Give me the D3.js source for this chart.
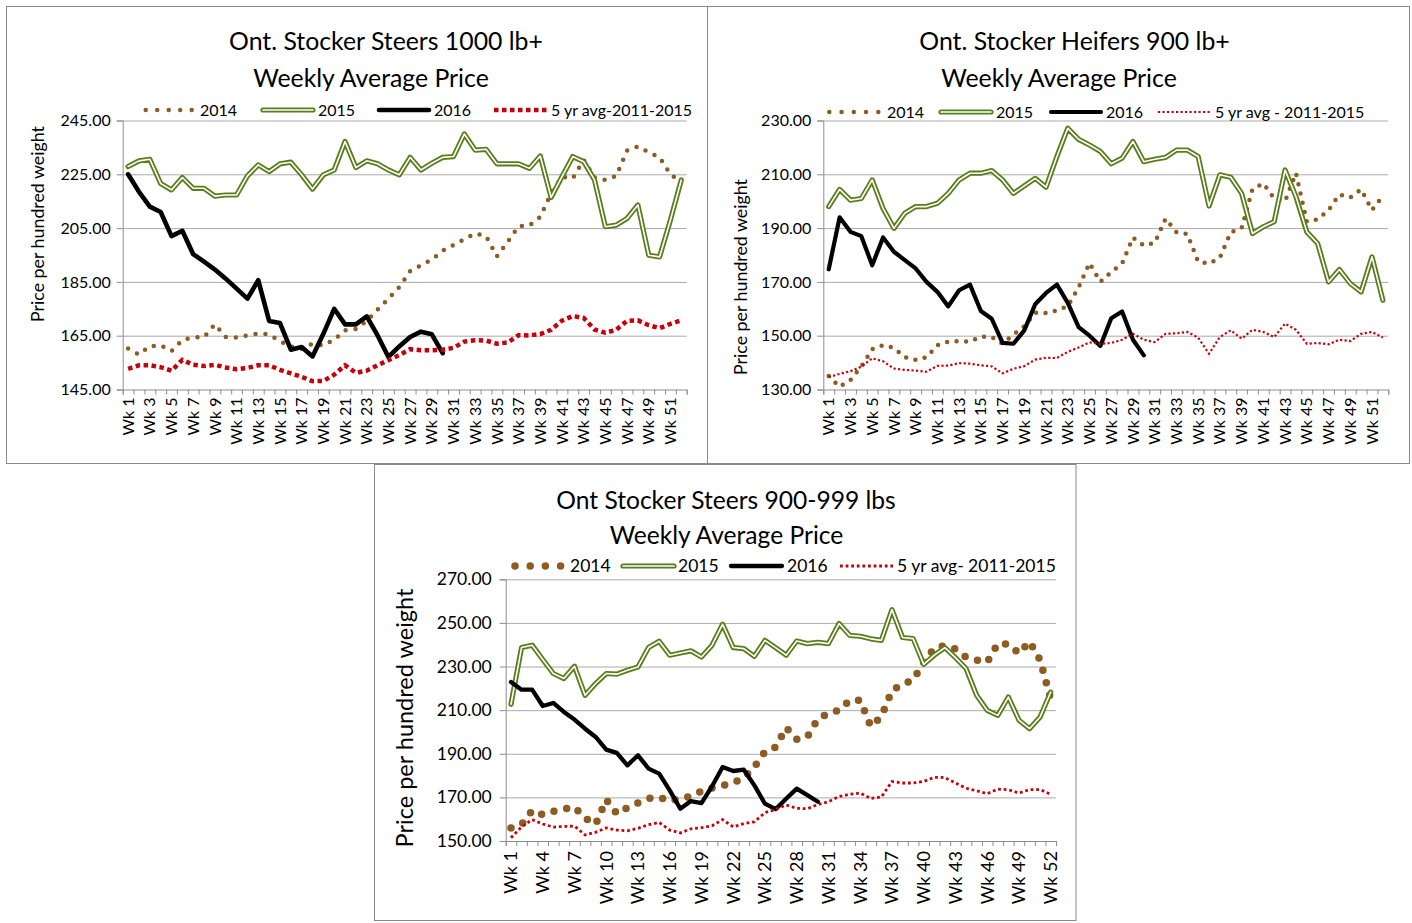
<!DOCTYPE html>
<html>
<head>
<meta charset="utf-8">
<script src="https://cdn.jsdelivr.net/npm/d3@7"></script>
<style>
  body { margin: 0; background: #fff; }
  svg text { font-family: Lato, 'Open Sans', sans-serif; fill: #000; }
</style>
</head>
<body>
<svg id="chart" width="1412" height="923"></svg>
<script>
// ---- data ($/cwt) ----
const weeks = d3.range(1, 53).map(w => `Wk ${w}`);

// Ont. Stocker Steers 1000 lb+
const steers1000_2014 = [160.2, 158.0, 161.1, 161.4, 159.3, 163.4, 164.3, 164.5, 169.2, 164.5, 164.3, 165.1, 165.8,
  165.5, 163.0, 161.0, 160.0, 162.0, 161.4, 163.5, 167.0, 167.5, 170.5, 174.7, 178.8, 183.1, 189.0, 191.2, 193.3,
  196.6, 198.7, 200.9, 203.0, 202.0, 194.5, 199.9, 205.7, 206.0, 209.2, 218.0, 224.0, 223.5, 230.3, 223.8, 222.9,
  224.4, 233.8, 235.3, 233.2, 231.3, 225.0, 222.0];
const steers1000_2015 = [227.9, 230.0, 230.6, 221.6, 219.2, 223.8, 219.8, 219.8, 216.9, 217.3, 217.3, 224.4, 228.5,
  226.0, 228.9, 229.5, 224.8, 219.5, 224.8, 226.6, 237.2, 227.5, 230.0, 228.9, 226.6, 224.8, 231.3, 226.6, 229.1,
  231.3, 231.6, 240.0, 234.0, 234.3, 228.9, 228.9, 228.9, 227.2, 231.8, 216.4, 224.1, 231.6, 229.7, 222.9, 205.5,
  206.1, 208.6, 213.6, 194.9, 194.3, 208.0, 222.9];
const steers1000_2016 = [225.0, 218.5, 213.0, 211.0, 202.0, 204.0, 195.3, 192.5, 189.6, 186.2, 182.5, 178.8, 185.6,
  170.5, 169.7, 159.8, 160.8, 157.3, 165.7, 175.0, 169.2, 169.2, 172.2, 165.1, 157.1, 161.0, 164.5, 166.5, 165.5,
  158.5];
const steers1000_avg = [152.7, 154.0, 154.0, 153.3, 152.0, 156.0, 154.2, 153.7, 154.2, 153.2, 152.5, 153.0, 154.0,
  154.0, 152.3, 151.0, 149.7, 148.1, 148.2, 150.5, 154.0, 151.2, 152.0, 154.0, 155.9, 157.8, 160.0, 159.6, 159.6,
  159.8, 160.5, 162.8, 163.3, 163.2, 162.0, 162.5, 165.2, 165.1, 165.6, 167.2, 170.6, 172.3, 171.6, 167.3, 166.1,
  167.2, 170.5, 170.7, 168.9, 167.8, 169.4, 170.7];

// Ont. Stocker Heifers 900 lb+
const heifers900_2014 = [135.0, 131.0, 133.5, 138.5, 145.0, 146.5, 145.5, 142.0, 141.0, 142.0, 146.5, 147.8, 148.0,
  147.8, 149.6, 149.5, 147.0, 150.4, 153.5, 158.5, 158.4, 159.4, 161.0, 168.0, 177.0, 170.0, 173.7, 176.8, 186.5,
  183.5, 184.5, 193.5, 188.5, 187.8, 177.5, 176.8, 179.0, 188.5, 190.0, 204.5, 206.6, 201.0, 200.0, 210.5, 192.4,
  193.2, 196.7, 202.5, 201.4, 204.4, 196.7, 202.0];
const heifers900_2015 = [198.0, 204.4, 200.4, 201.0, 207.9, 197.3, 189.9, 195.5, 198.0, 198.0, 199.2, 202.9, 207.9,
  210.4, 210.4, 211.4, 207.9, 202.9, 205.7, 208.5, 205.2, 216.6, 227.1, 223.0, 220.9, 218.5, 213.9, 216.0, 222.2,
  214.7, 215.6, 216.3, 219.0, 219.0, 216.6, 198.2, 209.8, 208.9, 202.9, 188.0, 190.5, 192.4, 211.6, 201.7, 188.6,
  184.3, 170.0, 174.6, 169.4, 166.3, 179.3, 163.2];
const heifers900_2016 = [174.7, 194.0, 188.6, 187.0, 176.2, 186.5, 181.2, 178.1, 175.0, 170.0, 166.3, 160.9, 166.9,
  169.0, 159.2, 156.3, 147.3, 147.0, 152.0, 161.7, 165.9, 169.0, 162.2, 153.2, 150.0, 146.2, 156.5, 159.0, 148.5,
  142.7];
const heifers900_avg = [134.6, 135.8, 136.8, 138.5, 141.6, 140.5, 137.8, 137.3, 137.0, 136.6, 138.8, 138.9, 139.8,
  139.6, 139.0, 138.6, 136.0, 137.7, 138.7, 141.1, 141.8, 141.7, 144.0, 145.6, 147.5, 147.0, 147.3, 148.5, 150.7,
  148.5, 147.6, 150.7, 150.9, 151.4, 149.3, 143.3, 149.5, 152.0, 148.9, 152.2, 151.4, 149.5, 154.5, 152.2, 147.0,
  147.3, 146.8, 148.5, 148.0, 150.7, 151.4, 149.3];

// Ont Stocker Steers 900-999 lbs
const steers900_2014 = [156.0, 157.5, 164.0, 162.0, 163.6, 164.6, 165.6, 160.5, 157.6, 169.0, 162.5, 165.3, 167.5,
  169.5, 170.0, 168.3, 169.5, 170.5, 172.8, 174.3, 175.5, 176.6, 179.0, 184.0, 191.0, 193.0, 202.0, 196.6, 197.7,
  206.0, 208.5, 210.0, 214.5, 214.5, 202.5, 207.0, 219.0, 222.0, 223.7, 232.0, 238.5, 239.5, 238.0, 234.2, 233.0,
  232.0, 240.5, 240.3, 236.0, 241.5, 233.0, 215.0];
const steers900_2015 = [212.7, 238.7, 239.8, 233.2, 226.8, 224.5, 230.1, 216.8, 222.2, 226.8, 226.5, 228.3, 229.8,
  238.7, 241.6, 235.2, 236.2, 237.2, 234.4, 239.8, 249.4, 238.7, 238.2, 234.7, 242.0, 238.7, 235.2, 241.7, 240.5,
  241.1, 240.5, 249.7, 244.3, 243.9, 242.7, 242.0, 256.1, 243.3, 242.8, 231.0, 235.2, 238.7, 234.1, 229.1, 216.8,
  209.9, 207.6, 216.0, 205.4, 201.5, 206.9, 218.3];
const steers900_2016 = [222.9, 219.4, 219.4, 211.9, 213.3, 209.2, 205.7, 201.5, 197.7, 191.9, 190.4, 184.7, 189.3,
  183.2, 180.9, 173.2, 164.8, 168.3, 167.4, 175.1, 183.9, 182.1, 182.7, 175.5, 167.1, 164.6, 169.4, 174.0, 171.0,
  168.0];
const steers900_avg = [151.5, 156.5, 159.8, 157.8, 156.4, 156.7, 156.8, 152.8, 154.0, 156.0, 155.0, 154.7, 155.8,
  157.5, 158.5, 155.0, 153.7, 155.6, 156.1, 157.0, 159.8, 156.5, 158.0, 158.8, 163.0, 164.5, 166.5, 165.0, 164.8,
  166.7, 168.0, 170.4, 171.4, 172.0, 169.5, 170.2, 177.3, 176.6, 176.6, 177.3, 179.2, 179.1, 176.6, 174.2, 173.0,
  171.7, 173.8, 173.5, 172.0, 173.6, 173.6, 171.4];

const steers1000Ticks = [145, 165, 185, 205, 225, 245];
const heifers900Ticks = [130, 150, 170, 190, 210, 230];
const steers900Ticks = [150, 170, 190, 210, 230, 250, 270];

const steers1000Title = ['Ont. Stocker Steers 1000 lb+', 'Weekly Average Price'];
const heifers900Title = ['Ont. Stocker Heifers 900 lb+', 'Weekly Average Price'];
const steers900Title = ['Ont Stocker Steers 900-999 lbs', 'Weekly Average Price'];

const steers1000Legend = ['2014', '2015', '2016', '5 yr avg-2011-2015'];
const heifers900Legend = ['2014', '2015', '2016', '5 yr avg - 2011-2015'];
const steers900Legend = ['2014', '2015', '2016', '5 yr avg- 2011-2015'];

const yTitle = 'Price per hundred weight';

// ---- colours ----
const BROWN = '#8c5c22';
const GREEN = '#5a7d1c';
const RED = '#c8000a';
const GRID = '#ababab';
const AXIS = '#8e8e8e';

const svg = d3.select('#chart');
svg.append('rect').attr('width', 1412).attr('height', 923).attr('fill', '#fff');

// draw one series path (or legend sample) in its style
function styledPath(g, d, kind, st) {
  if (kind === 'double') {
    g.append('path').attr('d', d).attr('fill', 'none').attr('stroke', GREEN)
      .attr('stroke-width', st.outer).attr('stroke-linejoin', 'round').attr('stroke-linecap', 'round');
    g.append('path').attr('d', d).attr('fill', 'none').attr('stroke', '#fff')
      .attr('stroke-width', st.inner).attr('stroke-linejoin', 'round').attr('stroke-linecap', 'round');
  } else if (kind === 'dot') {
    g.append('path').attr('d', d).attr('fill', 'none').attr('stroke', BROWN)
      .attr('stroke-width', st.w).attr('stroke-linecap', 'round')
      .attr('stroke-dasharray', `0,${st.gap}`);
  } else if (kind === 'solid') {
    g.append('path').attr('d', d).attr('fill', 'none').attr('stroke', '#000')
      .attr('stroke-width', st.w).attr('stroke-linejoin', 'round').attr('stroke-linecap', 'round');
  } else {
    g.append('path').attr('d', d).attr('fill', 'none').attr('stroke', RED)
      .attr('stroke-width', st.w).attr('stroke-dasharray', st.dash);
  }
}

function drawPanel(cfg) {
  const g = svg.append('g');

  g.append('rect')
    .attr('x', cfg.frame[0]).attr('y', cfg.frame[1])
    .attr('width', cfg.frame[2]).attr('height', cfg.frame[3])
    .attr('fill', '#fff').attr('stroke', '#8a8a8a').attr('stroke-width', 1);

  const x = d3.scaleBand().domain(weeks).range([cfg.left, cfg.right]);
  const xb = d3.scaleLinear().domain([0, weeks.length]).range([cfg.left, cfg.right]);
  const y = d3.scaleLinear().domain(d3.extent(cfg.ticks)).range([cfg.bottom, cfg.top]);

  // gridlines
  const grid = g.append('g')
    .attr('transform', `translate(${cfg.left},0)`)
    .call(d3.axisLeft(y).tickValues(cfg.ticks.slice(1)).tickSize(-(cfg.right - cfg.left)).tickFormat(''));
  grid.select('.domain').remove();
  grid.selectAll('line').attr('stroke', GRID);

  // y axis
  const ya = g.append('g')
    .attr('transform', `translate(${cfg.left},0)`)
    .call(d3.axisLeft(y).tickValues(cfg.ticks).tickSize(6).tickPadding(cfg.yPad).tickFormat(d3.format('.2f')));
  ya.select('.domain').attr('stroke', AXIS);
  ya.selectAll('line').attr('stroke', AXIS);
  ya.selectAll('text').attr('font-size', cfg.tickFont).attr('fill', '#222');

  // x axis: tick marks between categories
  const xa = g.append('g')
    .attr('transform', `translate(0,${cfg.bottom})`)
    .call(d3.axisBottom(xb).tickValues(d3.range(0, weeks.length + 1)).tickSize(5).tickFormat(''));
  xa.select('.domain').attr('stroke', AXIS);
  xa.selectAll('line').attr('stroke', AXIS);

  // x axis: rotated category labels
  const xl = g.append('g')
    .attr('transform', `translate(0,${cfg.bottom})`)
    .call(d3.axisBottom(x).tickValues(weeks.filter((w, i) => i % cfg.labelStep === 0)).tickSize(0));
  xl.select('.domain').remove();
  xl.selectAll('text')
    .attr('transform', 'rotate(-90)')
    .attr('text-anchor', 'end')
    .attr('x', -cfg.xPad).attr('y', 0).attr('dy', '0.35em')
    .attr('font-size', cfg.xFont).attr('fill', '#222');

  // series
  const line = d3.line()
    .x((d, i) => x(weeks[i]) + x.bandwidth() / 2)
    .y(d => y(d));
  const kinds = ['dot', 'double', 'solid', 'dash'];
  cfg.series.forEach((vals, k) => styledPath(g.append('g'), line(vals), kinds[k], cfg.styles[k]));

  // legend
  const lg = g.append('g');
  cfg.legendNames.forEach((name, k) => {
    const [x0, x1, tx] = cfg.legendPos[k];
    const st = kinds[k] === 'dot' ? { w: cfg.styles[0].w, gap: cfg.styles[0].legendGap } : cfg.styles[k];
    styledPath(lg.append('g'), d3.line()([[x0, cfg.legendY], [x1, cfg.legendY]]), kinds[k], st);
    lg.append('text').attr('x', tx).attr('y', cfg.legendY).attr('dy', '0.35em')
      .attr('font-size', cfg.legendFont).attr('fill', '#222').text(name);
  });

  // title
  cfg.title.forEach((t, i) => {
    g.append('text').attr('x', cfg.titleX[i]).attr('y', cfg.titleY[i])
      .attr('text-anchor', 'middle').attr('font-size', cfg.titleFont).text(t);
  });

  // y title
  g.append('text')
    .attr('transform', `translate(${cfg.yTitlePos[0]},${cfg.yTitlePos[1]}) rotate(-90)`)
    .attr('text-anchor', 'middle').attr('dy', '0.35em')
    .attr('font-size', cfg.yTitleFont).text(yTitle);
}

drawPanel({
  frame: [6.5, 6.5, 701, 457],
  left: 122.7, right: 686.7, top: 120.5, bottom: 389.5,
  ticks: steers1000Ticks,
  series: [steers1000_2014, steers1000_2015, steers1000_2016, steers1000_avg],
  styles: [{ w: 4.5, gap: 10, legendGap: 11.5 }, { outer: 5.2, inner: 1.6 }, { w: 4.6 }, { w: 4.5, dash: '4.5,3.5' }],
  labelStep: 2, tickFont: 16, xFont: 16, yPad: 6, xPad: 8,
  legendNames: steers1000Legend, legendY: 110, legendFont: 16,
  legendPos: [[145.7, 192.5, 200], [263, 313, 318], [379, 429, 434], [494, 547, 551]],
  title: steers1000Title, titleX: [386, 371], titleY: [50, 86.5], titleFont: 24.8,
  yTitlePos: [38, 224], yTitleFont: 17.8
});

drawPanel({
  frame: [707.5, 6.5, 702, 457],
  left: 823.3, right: 1388.3, top: 120.5, bottom: 389.5,
  ticks: heifers900Ticks,
  series: [heifers900_2014, heifers900_2015, heifers900_2016, heifers900_avg],
  styles: [{ w: 4.5, gap: 9.5, legendGap: 12.25 }, { outer: 5.2, inner: 1.6 }, { w: 4.2 }, { w: 2.2, dash: '2.2,2.3' }],
  labelStep: 2, tickFont: 16, xFont: 16, yPad: 6, xPad: 8,
  legendNames: heifers900Legend, legendY: 112, legendFont: 16,
  legendPos: [[829.3, 879, 887], [941, 991, 996], [1051, 1101, 1106], [1158, 1210, 1215]],
  title: heifers900Title, titleX: [1074.5, 1059], titleY: [50, 86.5], titleFont: 24.8,
  yTitlePos: [741, 277], yTitleFont: 17.8
});

drawPanel({
  frame: [374.5, 464.5, 701.5, 456],
  left: 505.7, right: 1056, top: 579.3, bottom: 841,
  ticks: steers900Ticks,
  series: [steers900_2014, steers900_2015, steers900_2016, steers900_avg],
  styles: [{ w: 7.5, gap: 13, legendGap: 15.2 }, { outer: 5.2, inner: 1.6 }, { w: 4.3 }, { w: 2.8, dash: '2.8,2.8' }],
  labelStep: 3, tickFont: 17.5, xFont: 18, yPad: 8, xPad: 10,
  legendNames: steers900Legend, legendY: 566, legendFont: 17.5,
  legendPos: [[515, 561.2, 570], [623, 674, 678], [731, 782, 787], [840, 893, 897]],
  title: steers900Title, titleX: [726, 726.5], titleY: [509, 544], titleFont: 24.6,
  yTitlePos: [405, 718], yTitleFont: 23.5
});
</script>
</body>
</html>
